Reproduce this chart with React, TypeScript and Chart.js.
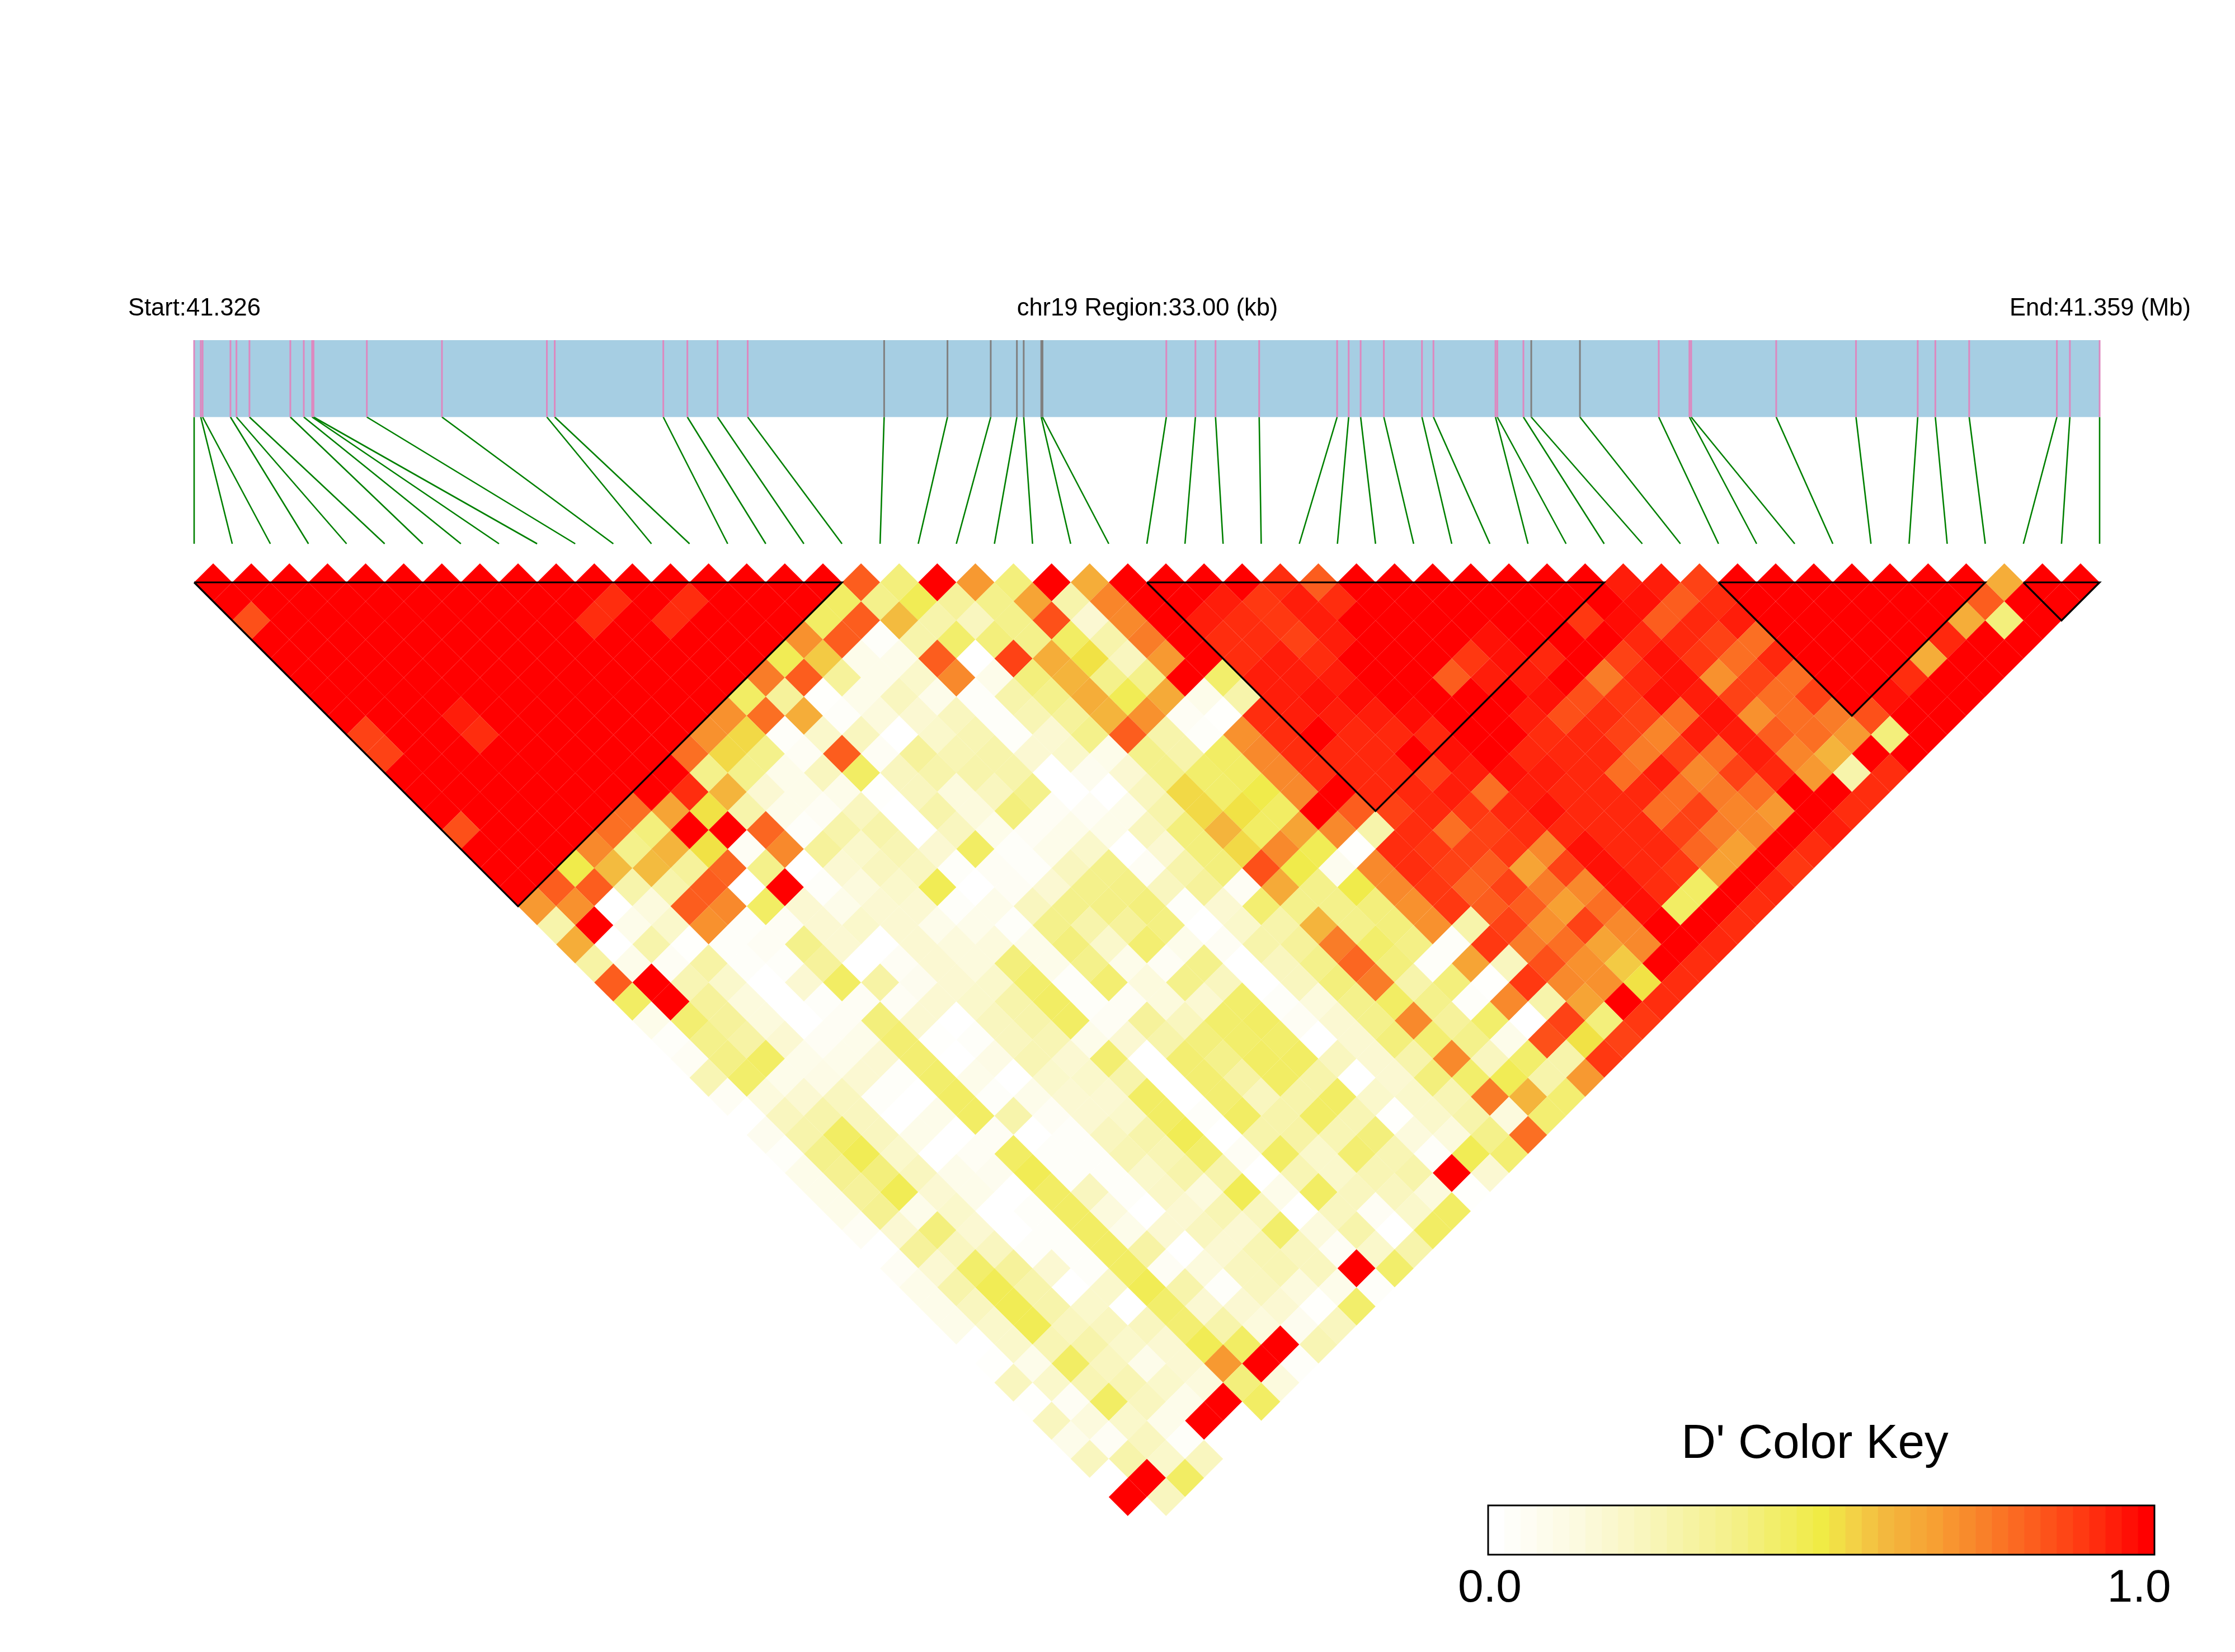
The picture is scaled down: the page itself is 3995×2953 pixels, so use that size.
import React, { useEffect, useRef } from "react";
import { Chart, registerables } from "chart.js";

Chart.register(...registerables);

// SNP physical positions along the 33 kb region (kb from region start)
const snpPositionsKb = [0, 0.115, 0.147, 0.629, 0.733, 0.958, 1.666, 1.899, 2.043, 2.068, 2.991, 4.292, 6.109, 6.245, 8.125, 8.542, 9.065, 9.587, 11.95, 13.047, 13.796, 14.249, 14.367, 14.671, 14.693, 16.837, 17.341, 17.689, 18.445, 19.795, 19.995, 20.202, 20.604, 21.264, 21.463, 22.537, 22.569, 23.021, 23.157, 24.0, 25.365, 25.896, 25.927, 27.399, 28.781, 29.85, 30.155, 30.741, 32.26, 32.485, 33.0];
const greySnps = [18, 19, 20, 21, 22, 23, 24, 38, 39];
const regionKb = 33;

// Haplotype blocks (first and last SNP index)
const blockStarts = [0, 25, 40, 48];
const blockEnds = [17, 37, 47, 50];

// D' x 100, one list per SNP lag (index distance)
const lag01 = [100,100,100,100,100,100,100,100,100,100,100,100,100,100,100,100,100,82,35,100,68,35,100,62,100,100,100,100,92,82,100,100,100,100,100,100,100,95,95,88,100,100,100,100,100,100,100,62,100,100];
const lag02 = [100,100,100,100,100,100,100,100,100,100,92,100,92,100,100,100,42,30,45,25,30,65,20,73,100,100,95,90,95,92,100,100,100,100,100,100,100,97,82,92,100,100,100,100,100,100,82,100,100];
const lag03 = [85,100,100,100,100,100,100,100,100,92,100,92,100,100,100,42,82,58,20,15,30,85,10,72,100,95,92,90,95,100,100,100,100,100,100,90,98,82,93,95,100,100,100,100,100,62,35,100];
const lag04 = [100,100,100,100,100,100,100,100,100,100,100,100,100,100,70,82,2,20,40,35,30,42,20,75,100,92,92,88,95,100,100,100,97,100,100,100,93,93,88,78,100,100,100,100,93,100,100];
const lag05 = [100,100,100,100,100,100,100,100,100,100,100,100,100,45,55,5,5,82,0,88,62,50,15,68,100,92,95,92,100,100,100,90,97,93,100,88,97,90,78,93,100,100,100,62,100,100];
const lag06 = [100,100,100,100,100,100,100,100,100,100,100,100,75,82,25,5,12,72,5,35,60,30,30,100,40,95,95,95,100,100,82,95,95,100,75,93,97,70,88,78,100,100,92,100,100];
const lag07 = [100,100,100,100,100,100,100,100,100,100,100,42,25,1,5,15,5,2,20,30,62,45,63,5,20,95,97,98,100,100,100,100,97,85,90,97,95,88,78,88,100,97,100,100];
const lag08 = [100,100,100,95,100,100,100,100,100,100,70,78,62,2,8,10,15,2,18,25,60,70,3,1,92,95,95,95,98,100,100,95,85,92,88,78,97,70,78,75,85,100,100];
const lag09 = [88,100,100,92,100,100,100,100,100,70,52,2,12,15,0,12,18,2,10,30,82,20,2,70,92,100,93,93,93,100,100,92,93,88,73,95,95,82,78,68,35,100];
const lag10 = [88,100,100,100,100,100,100,100,78,52,30,3,82,3,25,18,20,10,12,5,30,20,42,72,92,93,93,100,97,100,93,93,93,75,88,78,95,73,60,100,100];
const lag11 = [100,100,100,100,100,100,100,100,30,30,5,15,42,15,20,20,20,0,4,10,30,40,42,72,92,93,93,88,95,97,95,93,78,95,72,88,93,68,20,92];
const lag12 = [100,100,100,100,100,100,100,92,60,10,5,5,1,15,8,15,30,0,0,15,52,40,47,72,100,93,93,95,78,95,93,93,93,78,75,78,100,100,92];
const lag13 = [100,100,100,100,100,78,65,50,20,5,3,15,0,20,8,35,3,3,5,20,52,50,42,100,82,88,93,90,93,97,93,93,78,88,73,68,100,92];
const lag14 = [85,100,100,100,78,35,100,100,80,2,20,20,0,15,5,3,5,5,15,35,60,42,65,72,20,92,78,88,92,93,93,93,88,75,72,100,95];
const lag15 = [100,100,100,72,30,60,50,3,72,25,12,18,10,42,2,5,12,0,10,35,52,72,45,1,92,90,88,90,72,97,93,93,80,66,100,92];
const lag16 = [100,100,47,58,58,25,80,30,0,10,15,15,2,3,2,15,30,3,20,35,85,47,4,72,92,88,82,65,88,97,93,90,66,100,90];
const lag17 = [100,82,82,20,20,82,0,100,2,8,12,45,0,3,10,30,32,15,25,3,63,30,47,72,90,80,88,75,72,97,92,42,100,93];
const lag18 = [68,70,0,8,82,72,42,10,5,10,10,2,5,15,30,32,35,2,10,38,30,30,35,70,90,82,82,66,78,97,42,100,92];
const lag19 = [20,100,5,12,70,2,3,10,12,10,5,5,2,30,20,25,33,0,12,20,60,30,35,70,20,88,70,88,72,100,100,92];
const lag20 = [62,0,20,1,2,3,30,10,0,10,8,8,5,35,12,38,5,3,20,25,75,40,32,2,90,75,78,65,72,100,93];
const lag21 = [22,5,3,22,2,2,25,0,3,10,8,35,5,30,5,3,30,0,15,30,80,35,2,65,15,85,70,55,100,92];
const lag22 = [82,100,18,12,0,10,42,22,4,10,12,40,2,38,8,30,15,0,15,35,75,20,35,1,90,72,70,50,92];
const lag23 = [42,100,25,8,0,2,3,3,10,12,20,42,2,3,8,10,40,2,8,30,42,30,2,72,20,65,100,92];
const lag24 = [5,38,25,8,0,3,35,10,0,15,20,42,3,25,15,40,42,3,10,30,72,25,40,0,88,35,90];
const lag25 = [2,30,22,10,3,5,38,1,2,15,18,5,10,20,35,40,40,0,10,35,38,30,5,85,50,88];
const lag26 = [3,32,42,5,5,10,38,0,6,18,10,38,0,38,30,42,42,15,10,20,72,15,40,20,90];
const lag27 = [18,40,5,6,10,2,40,5,0,12,12,20,0,38,22,42,20,0,10,35,40,45,20,68];
const lag28 = [3,8,10,15,2,0,42,2,5,10,10,42,0,38,15,20,42,12,12,18,75,60,38];
const lag29 = [0,15,20,15,0,5,42,20,3,10,12,42,2,42,20,42,18,1,12,20,8,38];
const lag30 = [4,20,42,15,5,0,3,0,2,15,20,45,0,20,22,18,35,8,8,30,78];
const lag31 = [2,30,45,12,0,3,42,2,2,18,18,40,3,42,12,38,18,2,45,38];
const lag32 = [5,28,35,15,5,4,45,2,2,12,20,20,0,18,12,18,20,100,10];
const lag33 = [5,25,45,10,5,0,42,15,2,13,8,45,5,42,15,15,8,1];
const lag34 = [5,28,5,12,0,2,42,8,0,10,18,15,0,15,3,12,42];
const lag35 = [3,10,35,10,0,2,42,5,10,15,10,40,8,20,0,42];
const lag36 = [0,25,15,15,2,2,42,22,0,10,18,15,3,12,20];
const lag37 = [3,10,40,25,10,2,42,3,8,15,18,15,100,40];
const lag38 = [5,20,45,20,0,12,45,20,2,15,8,5,2];
const lag39 = [5,15,45,20,12,0,40,10,10,10,1,40];
const lag40 = [5,12,45,15,15,15,38,20,8,4,15];
const lag41 = [0,12,18,20,12,10,45,42,100,18];
const lag42 = [1,5,42,15,5,10,68,100,2];
const lag43 = [15,12,18,18,12,8,35,8];
const lag44 = [1,3,42,15,5,100,42];
const lag45 = [15,8,12,5,100,0];
const lag46 = [5,3,15,2,0];
const lag47 = [15,20,12,15];
const lag48 = [0,100,42];
const lag49 = [100,15];
const lag50 = [0];
const lagRows = [lag01,lag02,lag03,lag04,lag05,lag06,lag07,lag08,lag09,lag10,lag11,lag12,lag13,lag14,lag15,lag16,lag17,lag18,lag19,lag20,lag21,lag22,lag23,lag24,lag25,lag26,lag27,lag28,lag29,lag30,lag31,lag32,lag33,lag34,lag35,lag36,lag37,lag38,lag39,lag40,lag41,lag42,lag43,lag44,lag45,lag46,lag47,lag48,lag49,lag50];

// Colour key levels (D')
const keyLevels = [0,0.025,0.05,0.075,0.1,0.125,0.15,0.175,0.2,0.225,0.25,0.275,0.3,0.325,0.35,0.375,0.4,0.425,0.45,0.475,0.5,0.525,0.55,0.575,0.6,0.625,0.65,0.675,0.7,0.725,0.75,0.775,0.8,0.825,0.85,0.875,0.9,0.925,0.95,0.975,1];
const keyTickValues = [0.0025, 0.977];
const keyTickLabels = ["0.0", "1.0"];

const rampStops = [0, 0.125, 0.25, 0.375, 0.5, 0.55, 0.6, 0.675, 0.75, 0.825, 0.9, 0.95, 1];
const rampColors = [[255,255,255],[252,250,224],[248,245,181],[244,240,133],[240,235,69],[243,210,70],[243,184,62],[247,160,51],[249,128,41],[252,94,30],[255,58,18],[255,30,10],[255,0,0]];

// Reading correction for pale cells: maps a value read by eye to its place on the key
const readStops = [0, 0.02, 0.05, 0.1, 0.2, 0.3, 0.42, 1];
const keyStops = [0, 0.025, 0.085, 0.165, 0.275, 0.36, 0.44, 1];

function piecewise(v: number, xs: number[], ys: number[]): number {
  let n = 0;
  while (n < xs.length - 2 && v > xs[n + 1]) n++;
  return ys[n] + ((v - xs[n]) / (xs[n + 1] - xs[n])) * (ys[n + 1] - ys[n]);
}

function ramp(v: number): string {
  let n = 0;
  while (n < rampStops.length - 2 && v > rampStops[n + 1]) n++;
  const t = (v - rampStops[n]) / (rampStops[n + 1] - rampStops[n]);
  const c = rampColors[n].map((a, m) => Math.round(a + (rampColors[n + 1][m] - a) * t));
  return `rgb(${c[0]},${c[1]},${c[2]})`;
}

const W = 3995;
const H = 2953;
const PX0 = 347;
const UNIT = 68.12;
const HALF = UNIT / 2;
const ROW1 = 1041;
const CELL_RADIUS = 34.1;
const xOfPx = (p: number) => (p - PX0) / UNIT;
const yOfPx = (p: number) => 1 + (p - ROW1) / HALF;
const kbToU = (kb: number) => (kb / regionKb) * 50;

const BAR_TOP = yOfPx(608);
const BAR_BOTTOM = yOfPx(745.5);
const CONNECT_END = yOfPx(972);
const FONT = "'Liberation Sans', Arial, sans-serif";

const GAP = { x: NaN, y: NaN };

function buildMain(canvas: HTMLCanvasElement) {
  const cells: { x: number; y: number }[] = [];
  const cellColors: string[] = [];
  lagRows.forEach((row, r) => {
    const lag = r + 1;
    row.forEach((v, i) => {
      cells.push({ x: i + lag / 2, y: lag });
      cellColors.push(ramp(piecewise(v / 100, readStops, keyStops)));
    });
  });
  const pink: any[] = [];
  const grey: any[] = [];
  const green: any[] = [];
  snpPositionsKb.forEach((kb, i) => {
    const u = kbToU(kb);
    const target = greySnps.includes(i) ? grey : pink;
    target.push({ x: u, y: BAR_TOP }, { x: u, y: BAR_BOTTOM }, GAP);
    green.push({ x: u, y: BAR_BOTTOM }, { x: i, y: CONNECT_END }, GAP);
  });
  const blocks: any[] = [];
  blockStarts.forEach((a, n) => {
    const b = blockEnds[n];
    blocks.push({ x: a, y: 1 }, { x: b, y: 1 }, { x: (a + b) / 2, y: 1 + (b - a) }, { x: a, y: 1 }, GAP);
  });
  const line = (data: any[], color: string, width: number, order: number) => ({
    type: "scatter", data, showLine: true, borderColor: color, borderWidth: width,
    pointRadius: 0, order, spanGaps: false, fill: false, clip: false,
  });
  const textPlugin = {
    id: "labels",
    afterDraw(chart: any) {
      const c = chart.ctx;
      c.save();
      c.fillStyle = "#000";
      c.textBaseline = "alphabetic";
      c.font = `43.5px ${FONT}`;
      c.textAlign = "left";
      c.fillText("Start:41.326", 229, 564);
      c.fillText("End:41.359 (Mb)", 3592, 564);
      c.textAlign = "center";
      c.fillText("chr19 Region:33.00 (kb)", 2051, 564);
      c.restore();
    },
  };
  return new Chart(canvas, {
    type: "scatter",
    data: {
      datasets: [
        line(blocks, "#000000", 3.2, 0),
        line(grey, "#808080", 3, 1),
        line(pink, "#DD88BF", 3, 1),
        line(green, "#008000", 2.6, 1),
        {
          type: "scatter",
          data: [{ x: 0, y: BAR_TOP }, { x: 50, y: BAR_TOP }],
          showLine: true, borderWidth: 0, borderColor: "#A6CEE3", backgroundColor: "#A6CEE3",
          pointRadius: 0, fill: { value: BAR_BOTTOM }, order: 2,
        },
        {
          type: "scatter", data: cells, showLine: false, pointStyle: "rectRot", pointRadius: CELL_RADIUS,
          pointBorderWidth: 0, pointBackgroundColor: cellColors, order: 3,
        },
      ] as any,
    },
    options: {
      responsive: false, animation: false, devicePixelRatio: 1,
      layout: { padding: 0 },
      plugins: { legend: { display: false }, tooltip: { enabled: false }, title: { display: false } },
      scales: {
        // Chart.js insets the plot area by the largest point radius, so the bounds start there
        x: { type: "linear", display: false, min: xOfPx(CELL_RADIUS), max: xOfPx(W - CELL_RADIUS) },
        y: { type: "linear", display: false, reverse: true, min: yOfPx(CELL_RADIUS), max: yOfPx(H - CELL_RADIUS) },
      },
    } as any,
    plugins: [textPlugin],
  });
}

const KEY_LEFT = 2500;
const KEY_TOP = 2480;

function buildKey(canvas: HTMLCanvasElement) {
  const framePlugin = {
    id: "frame",
    afterDraw(chart: any) {
      const { left, top, width, height } = chart.chartArea;
      const c = chart.ctx;
      c.save();
      c.strokeStyle = "#000";
      c.lineWidth = 3;
      c.strokeRect(left, top, width, height);
      c.fillStyle = "#000";
      c.font = `85.6px ${FONT}`;
      c.textAlign = "center";
      c.textBaseline = "alphabetic";
      c.fillText("D' Color Key", 3244 - KEY_LEFT, 2605.6 - KEY_TOP);
      c.restore();
    },
  };
  return new Chart(canvas, {
    type: "bar",
    data: {
      datasets: [{
        data: keyLevels.map((_, i) => ({ x: (i + 0.5) / keyLevels.length, y: 1 })),
        backgroundColor: keyLevels.map((v) => ramp(v)),
        borderWidth: 0, barPercentage: 1, categoryPercentage: 1, grouped: false,
      }],
    },
    options: {
      responsive: false, animation: false, devicePixelRatio: 1,
      layout: { padding: { left: 160, right: 144, top: 211, bottom: 0 } },
      plugins: { legend: { display: false }, tooltip: { enabled: false } },
      scales: {
        x: {
          type: "linear", min: 0, max: 1, offset: false, position: "bottom",
          grid: { display: false, drawTicks: false }, border: { display: false },
          afterBuildTicks(axis: any) { axis.ticks = keyTickValues.map((value) => ({ value })); },
          afterFit(axis: any) { axis.height = 174; },
          ticks: {
            autoSkip: false, maxRotation: 0, padding: 12, color: "#000",
            font: { family: "Liberation Sans", size: 82 },
            callback: (_v: any, i: number) => keyTickLabels[i],
          },
        },
        y: { type: "linear", display: false, min: 0, max: 1 },
      },
    } as any,
    plugins: [framePlugin],
  });
}

export default function App() {
  const mainRef = useRef<HTMLCanvasElement>(null);
  const keyRef = useRef<HTMLCanvasElement>(null);
  useEffect(() => {
    const a = buildMain(mainRef.current!);
    const b = buildKey(keyRef.current!);
    return () => { a.destroy(); b.destroy(); };
  }, []);
  return (
    <div style={{ position: "absolute", left: 0, top: 0, width: W, height: H, background: "#fff", overflow: "hidden" }}>
      <canvas ref={mainRef} width={W} height={H} style={{ position: "absolute", left: 0, top: 0 }} />
      <canvas ref={keyRef} width={W - KEY_LEFT} height={H - KEY_TOP} style={{ position: "absolute", left: KEY_LEFT, top: KEY_TOP }} />
    </div>
  );
}
